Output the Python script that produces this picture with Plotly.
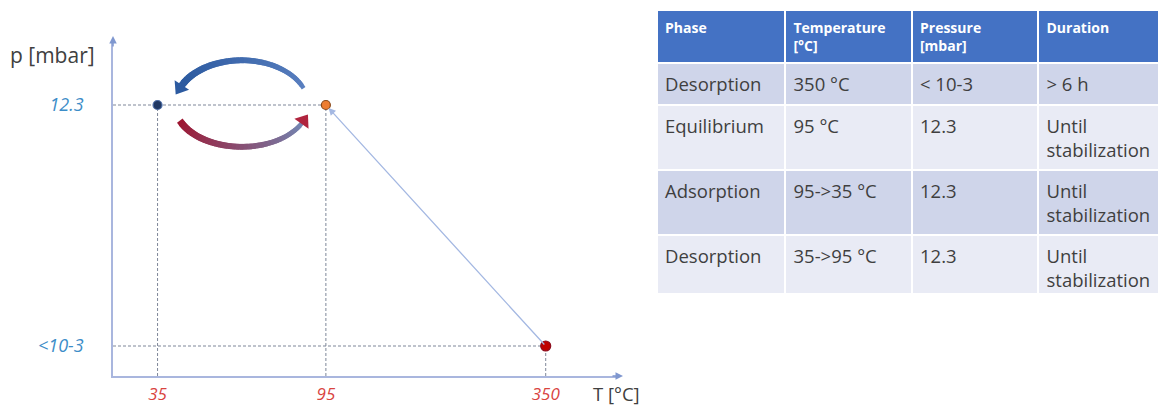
import numpy as np
import plotly.graph_objects as go

# ---------------- data ----------------
temps = [35, 95, 350]              # °C
pressures = [12.3, 12.3, 1e-3]     # mbar
point_fill = ["#203864", "#ED7D31", "#C00000"]
point_edge = ["#4F6FA8", "#8A4A1A", "#8E0E1E"]

x_tick_vals = [35, 95, 350]
x_tick_text = ["35", "95", "350"]
y_tick_vals = [1e-3, 12.3]
y_tick_text = ["<10-3", "12.3"]

table_header = ["Phase", "Temperature<br>[°C]", "Pressure<br>[mbar]", "Duration"]
col_phase = ["Desorption", "Equilibrium", "Adsorption", "Desorption"]
col_temp = ["350 °C", "95 °C", "95->35 °C", "35->95 °C"]
col_press = ["< 10-3", "12.3", "12.3", "12.3"]
col_dur = ["> 6 h", "Until<br>stabilization", "Until<br>stabilization", "Until<br>stabilization"]
row_fill = ["#CFD5EA", "#E9EBF5", "#CFD5EA", "#E9EBF5"]

# ---------------- layout geometry ----------------
W, H = 1159, 412
X_RANGE = [1.4293, 2.7303]   # log10 °C
Y_RANGE = [-3.509, 2.193]    # log10 mbar
X_DOM = [113 / W, 618 / W]
Y_DOM = [36 / H, 372 / H]
FONT = "Open Sans"
AXIS_COLOR = "#A9B6DE"

fig = go.Figure()

x_start = 10 ** X_RANGE[0]
y_bottom = 10 ** Y_RANGE[0]
guide = dict(color="#7E8799", width=1, dash="3px,2px")

# dashed guide lines
for T, p in zip(temps, pressures):
    fig.add_trace(go.Scatter(x=[T, T], y=[y_bottom, p], mode="lines", line=guide,
                             hoverinfo="skip"))
for p in sorted(set(pressures)):
    tmax = max(T for T, pp in zip(temps, pressures) if pp == p)
    fig.add_trace(go.Scatter(x=[x_start, tmax], y=[p, p], mode="lines", line=guide,
                             hoverinfo="skip"))

# line from 350 back to 95 with arrowhead
fig.add_annotation(x=np.log10(temps[1]), y=np.log10(pressures[1]),
                   ax=np.log10(temps[2]), ay=np.log10(pressures[2]),
                   xref="x", yref="y", axref="x", ayref="y", text="",
                   showarrow=True, arrowhead=2, arrowsize=1.1, arrowwidth=1.3,
                   arrowcolor="#A4B8E2", standoff=4)

# curved arrows between the two 12.3 mbar points
cx = (np.log10(temps[0]) + np.log10(temps[1])) / 2
cy = np.log10(pressures[0])
rx = 0.172
ry_top, ry_bot = 0.76, 0.71


def mix(c1, c2, f):
    a = np.array([int(c1[i:i + 2], 16) for i in (1, 3, 5)])
    b = np.array([int(c2[i:i + 2], 16) for i in (1, 3, 5)])
    c = (a + (b - a) * f).astype(int)
    return "rgb(%d,%d,%d)" % tuple(c)


def arc(t0, t1, ry, c_start, c_end, w_start, w_end, head_color):
    ts = np.radians(np.linspace(t0, t1, 40))
    xs = 10 ** (cx + rx * np.cos(ts))
    ys = 10 ** (cy + ry * np.sin(ts))
    n = len(ts) - 3
    for i in range(n):
        f = i / (n - 1)
        fig.add_trace(go.Scatter(x=xs[i:i + 3], y=ys[i:i + 3], mode="lines",
                                 line=dict(color=mix(c_start, c_end, f),
                                           width=w_start + (w_end - w_start) * f),
                                 hoverinfo="skip"))
    fig.add_trace(go.Scatter(x=xs[-4:], y=ys[-4:], mode="markers",
                             marker=dict(symbol="triangle-up", size=[0, 0, 0, 15],
                                         color=head_color, angleref="previous",
                                         opacity=1, line=dict(width=0)),
                             hoverinfo="skip"))


# blue arc (over the top, right -> left)
arc(22, 158, ry_top, "#5A80C0", "#2C5AA0", 4.5, 7, "#2C5AA0")
# red arc (underneath, left -> right)
arc(-158, -22, ry_bot, "#9E1631", "#7484B0", 7, 4.5, "#B0243E")

# points
fig.add_trace(go.Scatter(x=temps, y=pressures, mode="markers",
                         marker=dict(size=[9, 9, 10], color=point_fill, opacity=1,
                                     line=dict(color=point_edge, width=1.2)),
                         hoverinfo="skip"))

# axis arrows
fig.add_annotation(x=X_DOM[0], y=Y_DOM[1] + 4 / H, xref="paper", yref="paper",
                   ax=0, ay=12, text="", showarrow=True, arrowhead=2, arrowsize=1,
                   arrowwidth=1.5, arrowcolor="#7F97CF")
fig.add_annotation(x=X_DOM[1] + 5 / W, y=Y_DOM[0], xref="paper", yref="paper",
                   ax=-12, ay=0, text="", showarrow=True, arrowhead=2, arrowsize=1,
                   arrowwidth=1.5, arrowcolor="#7F97CF")

# axis titles
fig.add_annotation(x=8 / W, y=1 - 55 / H, xref="paper", yref="paper", text="p [mbar]",
                   showarrow=False, xanchor="left", yanchor="middle",
                   font=dict(family=FONT, size=21, color="#404040"))
fig.add_annotation(x=591 / W, y=1 - 393 / H, xref="paper", yref="paper", text="T [°C]",
                   showarrow=False, xanchor="left", yanchor="middle",
                   font=dict(family=FONT, size=18.5, color="#404040"))

# table (header + first row; then remaining rows whose two-line cells are taller)
header_font = dict(family=FONT, size=14, color="white")
body_font = dict(family=FONT, size=18.5, color="#3F3F3F")


def cell(s):
    return "<span>%s</span>" % s


cols = [[cell(s) for s in c] for c in (col_phase, col_temp, col_press, col_dur)]
cw = [129, 127, 127, 121]
white = dict(color="white", width=2)

fig.add_trace(go.Table(
    domain=dict(x=[657 / W, 1.0], y=[(H - 105) / H, (H - 10) / H]),
    columnwidth=cw,
    header=dict(values=["<b>%s</b>" % h for h in table_header],
                fill_color="#4472C4", align="left", height=53,
                font=header_font, line=white),
    cells=dict(values=[[c[0]] for c in cols], fill_color=row_fill[0],
               align="left", height=42, font=body_font, line=white),
))
fig.add_trace(go.Table(
    domain=dict(x=[657 / W, 1.0], y=[(H - 293) / H, (H - 105) / H]),
    columnwidth=cw,
    header=dict(values=[c[1] for c in cols], fill_color=row_fill[1],
                align="left", height=63, font=body_font, line=white),
    cells=dict(values=[c[2:] for c in cols], fill_color=[row_fill[2:]] * 4,
               align="left", height=62, font=body_font, line=white),
))

fig.update_layout(
    width=W, height=H, margin=dict(l=0, r=0, t=0, b=0),
    paper_bgcolor="white", plot_bgcolor="white", showlegend=False, hovermode=False,
    xaxis=dict(type="log", range=X_RANGE, domain=X_DOM, showgrid=False, zeroline=False,
               showline=True, linecolor=AXIS_COLOR, linewidth=1.5,
               tickmode="array", tickvals=x_tick_vals,
               ticktext=["<i>%s</i>" % t for t in x_tick_text],
               ticks="outside", ticklen=2, tickcolor="rgba(0,0,0,0)",
               tickfont=dict(family=FONT, size=17, color="#D9443F")),
    yaxis=dict(type="log", range=Y_RANGE, domain=Y_DOM, showgrid=False, zeroline=False,
               showline=True, linecolor=AXIS_COLOR, linewidth=1.5,
               tickmode="array", tickvals=y_tick_vals,
               ticktext=["<i>%s</i>" % t for t in y_tick_text],
               ticks="outside", ticklen=24, tickcolor="rgba(0,0,0,0)",
               tickfont=dict(family=FONT, size=18, color="#3C8DC8")),
)

fig.write_html("out.html", config={"displayModeBar": False, "staticPlot": False},
               post_script="document.body.style.margin='0';document.body.style.overflow='hidden';")
